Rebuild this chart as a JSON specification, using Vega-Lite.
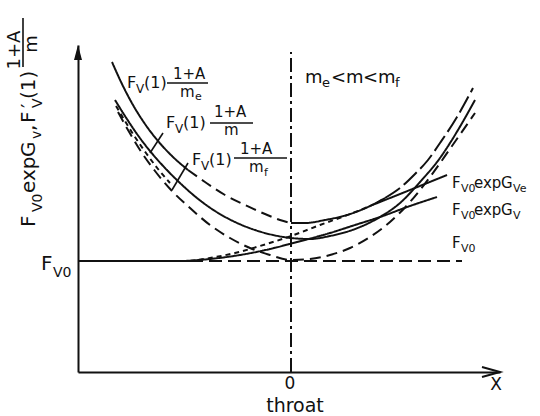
{
  "$schema": "https://vega.github.io/schema/vega-lite/v6.json",
  "width": 422,
  "height": 327,
  "autosize": {"type": "none"},
  "padding": {"left": 78, "top": 45, "right": 40, "bottom": 44},
  "background": "white",
  "config": {"view": {"stroke": null}, "text": {"font": "DejaVu Sans", "color": "#111"}},
  "datasets": {
    "curves": [
      {"s": "me_a", "st": "solid", "x": -1.79, "y": 3.10},
      {"s": "me_a", "st": "solid", "x": -1.69, "y": 2.88},
      {"s": "me_a", "st": "solid", "x": -1.58, "y": 2.67},
      {"s": "me_a", "st": "solid", "x": -1.46, "y": 2.48},
      {"s": "me_a", "st": "solid", "x": -1.33, "y": 2.31},
      {"s": "me_a", "st": "solid", "x": -1.19, "y": 2.16},
      {"s": "me_a", "st": "solid", "x": -1.03, "y": 2.02},
      {"s": "me_b", "st": "dash", "x": -1.03, "y": 2.02},
      {"s": "me_b", "st": "dash", "x": -0.86, "y": 1.90},
      {"s": "me_b", "st": "dash", "x": -0.66, "y": 1.77},
      {"s": "me_b", "st": "dash", "x": -0.46, "y": 1.67},
      {"s": "me_b", "st": "dash", "x": -0.26, "y": 1.58},
      {"s": "me_b", "st": "dash", "x": -0.11, "y": 1.52},
      {"s": "me_b", "st": "dash", "x": 0.0, "y": 1.49},
      {"s": "me_c", "st": "solid", "x": 0.0, "y": 1.49},
      {"s": "me_c", "st": "solid", "x": 0.14, "y": 1.49},
      {"s": "me_c", "st": "solid", "x": 0.34, "y": 1.52},
      {"s": "me_c", "st": "solid", "x": 0.56, "y": 1.57},
      {"s": "me_c", "st": "solid", "x": 0.79, "y": 1.66},
      {"s": "me_c", "st": "solid", "x": 0.94, "y": 1.74},
      {"s": "me_d", "st": "ldash", "x": 0.94, "y": 1.74},
      {"s": "me_d", "st": "ldash", "x": 1.09, "y": 1.84},
      {"s": "me_d", "st": "ldash", "x": 1.24, "y": 1.98},
      {"s": "me_d", "st": "ldash", "x": 1.37, "y": 2.12},
      {"s": "me_d", "st": "ldash", "x": 1.49, "y": 2.29},
      {"s": "me_d", "st": "ldash", "x": 1.66, "y": 2.55},
      {"s": "me_d", "st": "ldash", "x": 1.82, "y": 2.84},
      {"s": "m", "st": "solid", "x": -1.76, "y": 2.72},
      {"s": "m", "st": "solid", "x": -1.66, "y": 2.56},
      {"s": "m", "st": "solid", "x": -1.54, "y": 2.38},
      {"s": "m", "st": "solid", "x": -1.41, "y": 2.21},
      {"s": "m", "st": "solid", "x": -1.26, "y": 2.04},
      {"s": "m", "st": "solid", "x": -1.11, "y": 1.89},
      {"s": "m", "st": "solid", "x": -0.94, "y": 1.74},
      {"s": "m", "st": "solid", "x": -0.76, "y": 1.61},
      {"s": "m", "st": "solid", "x": -0.56, "y": 1.50},
      {"s": "m", "st": "solid", "x": -0.36, "y": 1.42},
      {"s": "m", "st": "solid", "x": -0.18, "y": 1.37},
      {"s": "m", "st": "solid", "x": 0.0, "y": 1.34},
      {"s": "m", "st": "solid", "x": 0.19, "y": 1.33},
      {"s": "m", "st": "solid", "x": 0.39, "y": 1.36},
      {"s": "m", "st": "solid", "x": 0.64, "y": 1.43},
      {"s": "m", "st": "solid", "x": 0.89, "y": 1.55},
      {"s": "m", "st": "solid", "x": 1.09, "y": 1.69},
      {"s": "m", "st": "solid", "x": 1.29, "y": 1.90},
      {"s": "m", "st": "solid", "x": 1.49, "y": 2.14},
      {"s": "m", "st": "solid", "x": 1.67, "y": 2.42},
      {"s": "m", "st": "solid", "x": 1.84, "y": 2.72},
      {"s": "mf", "st": "dash", "x": -1.73, "y": 2.60},
      {"s": "mf", "st": "dash", "x": -1.63, "y": 2.42},
      {"s": "mf", "st": "dash", "x": -1.51, "y": 2.22},
      {"s": "mf", "st": "dash", "x": -1.36, "y": 2.01},
      {"s": "mf", "st": "dash", "x": -1.19, "y": 1.81},
      {"s": "mf", "st": "dash", "x": -1.01, "y": 1.64},
      {"s": "mf", "st": "dash", "x": -0.81, "y": 1.47},
      {"s": "mf", "st": "dash", "x": -0.61, "y": 1.34},
      {"s": "mf", "st": "dash", "x": -0.41, "y": 1.24},
      {"s": "mf", "st": "dash", "x": -0.21, "y": 1.17},
      {"s": "mf", "st": "dash", "x": 0.0, "y": 1.12},
      {"s": "mf", "st": "dash", "x": 0.19, "y": 1.13},
      {"s": "mf", "st": "dash", "x": 0.39, "y": 1.17},
      {"s": "mf", "st": "dash", "x": 0.59, "y": 1.24},
      {"s": "mf", "st": "dash", "x": 0.79, "y": 1.35},
      {"s": "mf", "st": "dash", "x": 0.99, "y": 1.50},
      {"s": "mf", "st": "dash", "x": 1.19, "y": 1.70},
      {"s": "mf", "st": "dash", "x": 1.39, "y": 1.95},
      {"s": "mf", "st": "dash", "x": 1.61, "y": 2.26},
      {"s": "mf", "st": "dash", "x": 1.84, "y": 2.59},
      {"s": "l3", "st": "short", "x": -1.75, "y": 2.66},
      {"s": "l3", "st": "short", "x": -1.66, "y": 2.51},
      {"s": "l3", "st": "short", "x": -1.56, "y": 2.35},
      {"s": "l3", "st": "short", "x": -1.45, "y": 2.19},
      {"s": "l3", "st": "short", "x": -1.33, "y": 2.03},
      {"s": "l3", "st": "short", "x": -1.21, "y": 1.89},
      {"s": "gve_a", "st": "short", "x": -1.01, "y": 1.11},
      {"s": "gve_a", "st": "short", "x": -0.81, "y": 1.14},
      {"s": "gve_a", "st": "short", "x": -0.56, "y": 1.19},
      {"s": "gve_a", "st": "short", "x": -0.31, "y": 1.26},
      {"s": "gve_a", "st": "short", "x": 0.0, "y": 1.36},
      {"s": "gve_a", "st": "short", "x": 0.29, "y": 1.47},
      {"s": "gve_a", "st": "short", "x": 0.59, "y": 1.58},
      {"s": "gve_a", "st": "short", "x": 0.84, "y": 1.68},
      {"s": "gve_b", "st": "solid", "x": 0.84, "y": 1.68},
      {"s": "gve_b", "st": "solid", "x": 1.19, "y": 1.82},
      {"s": "gve_b", "st": "solid", "x": 1.56, "y": 1.97},
      {"s": "gv", "st": "solid", "x": -1.06, "y": 1.11},
      {"s": "gv", "st": "solid", "x": -0.81, "y": 1.13},
      {"s": "gv", "st": "solid", "x": -0.51, "y": 1.17},
      {"s": "gv", "st": "solid", "x": -0.21, "y": 1.23},
      {"s": "gv", "st": "solid", "x": 0.06, "y": 1.30},
      {"s": "gv", "st": "solid", "x": 0.39, "y": 1.39},
      {"s": "gv", "st": "solid", "x": 0.64, "y": 1.47},
      {"s": "gv", "st": "solid", "x": 0.89, "y": 1.55},
      {"s": "gv", "st": "solid", "x": 1.19, "y": 1.66},
      {"s": "gv", "st": "solid", "x": 1.46, "y": 1.75},
      {"s": "f0_a", "st": "solid", "x": -2.13, "y": 1.11},
      {"s": "f0_a", "st": "solid", "x": -1.01, "y": 1.11},
      {"s": "f0_b", "st": "fdash", "x": -1.01, "y": 1.11},
      {"s": "f0_b", "st": "fdash", "x": 1.71, "y": 1.11}
    ],
    "labels": [
      {"t": "F", "x": -2.56, "y": 1.45, "g": "ym"},
      {"t": "exp", "x": -2.56, "y": 1.79, "g": "ym"},
      {"t": "G", "x": -2.56, "y": 2.15, "g": "ym"},
      {"t": ",", "x": -2.56, "y": 2.41, "g": "ym"},
      {"t": "F", "x": -2.56, "y": 2.49, "g": "ym"},
      {"t": "′", "x": -2.56, "y": 2.64, "g": "ym"},
      {"t": "(1)", "x": -2.56, "y": 2.73, "g": "ym"},
      {"t": "V0", "x": -2.49, "y": 1.60, "g": "ys"},
      {"t": "v", "x": -2.50, "y": 2.33, "g": "ys"},
      {"t": "V", "x": -2.49, "y": 2.64, "g": "ys"},
      {"t": "1+A", "x": -2.71, "y": 3.22, "g": "yf"},
      {"t": "m", "x": -2.54, "y": 3.28, "g": "yf"},
      {"t": "F", "x": -1.64, "y": 2.84, "g": "a16"},
      {"t": "V", "x": -1.55, "y": 2.79, "g": "a12"},
      {"t": "(1)", "x": -1.47, "y": 2.84, "g": "a16"},
      {"t": "1+A", "x": -1.18, "y": 2.93, "g": "a15"},
      {"t": "m", "x": -1.11, "y": 2.75, "g": "a15"},
      {"t": "e", "x": -0.96, "y": 2.72, "g": "a11"},
      {"t": "F", "x": -1.25, "y": 2.44, "g": "a16"},
      {"t": "V", "x": -1.16, "y": 2.39, "g": "a12"},
      {"t": "(1)", "x": -1.08, "y": 2.44, "g": "a16"},
      {"t": "1+A", "x": -0.77, "y": 2.55, "g": "a15"},
      {"t": "m", "x": -0.67, "y": 2.37, "g": "a15"},
      {"t": "F", "x": -0.99, "y": 2.07, "g": "a16"},
      {"t": "V", "x": -0.90, "y": 2.02, "g": "a12"},
      {"t": "(1)", "x": -0.82, "y": 2.07, "g": "a16"},
      {"t": "1+A", "x": -0.51, "y": 2.185, "g": "a15"},
      {"t": "m", "x": -0.42, "y": 2.0, "g": "a15"},
      {"t": "f", "x": -0.27, "y": 1.96, "g": "a11"},
      {"t": "m", "x": 0.14, "y": 2.89, "g": "a18"},
      {"t": "e", "x": 0.31, "y": 2.85, "g": "a13"},
      {"t": "<", "x": 0.40, "y": 2.89, "g": "a18"},
      {"t": "m", "x": 0.55, "y": 2.89, "g": "a18"},
      {"t": "<", "x": 0.72, "y": 2.89, "g": "a18"},
      {"t": "m", "x": 0.87, "y": 2.89, "g": "a18"},
      {"t": "f", "x": 1.04, "y": 2.85, "g": "a13"},
      {"t": "F", "x": 1.61, "y": 1.84, "g": "a15"},
      {"t": "V0", "x": 1.70, "y": 1.80, "g": "a11"},
      {"t": "exp", "x": 1.83, "y": 1.84, "g": "a15"},
      {"t": "G", "x": 2.10, "y": 1.84, "g": "a15"},
      {"t": "Ve", "x": 2.22, "y": 1.80, "g": "a11"},
      {"t": "F", "x": 1.61, "y": 1.57, "g": "a15"},
      {"t": "V0", "x": 1.70, "y": 1.53, "g": "a11"},
      {"t": "exp", "x": 1.83, "y": 1.57, "g": "a15"},
      {"t": "G", "x": 2.10, "y": 1.57, "g": "a15"},
      {"t": "V", "x": 2.22, "y": 1.53, "g": "a11"},
      {"t": "F", "x": 1.61, "y": 1.24, "g": "a15"},
      {"t": "V0", "x": 1.70, "y": 1.20, "g": "a11"},
      {"t": "F", "x": -2.50, "y": 1.02, "g": "a20"},
      {"t": "V0", "x": -2.38, "y": 0.95, "g": "a14"},
      {"t": "0", "x": -0.01, "y": -0.17, "g": "c17"},
      {"t": "X", "x": 2.05, "y": -0.18, "g": "c17"},
      {"t": "throat", "x": 0.04, "y": -0.40, "g": "c19"}
    ],
    "segs": [
      {"k": "bar", "x": -1.24, "y": 2.89, "x2": -0.83, "y2": 2.89},
      {"k": "bar", "x": -0.81, "y": 2.49, "x2": -0.38, "y2": 2.49},
      {"k": "bar", "x": -0.57, "y": 2.14, "x2": -0.04, "y2": 2.14},
      {"k": "bar", "x": -2.68, "y": 3.05, "x2": -2.68, "y2": 3.54},
      {"k": "bar", "x": -1.28, "y": 2.39, "x2": -1.41, "y2": 2.19},
      {"k": "bar", "x": -1.03, "y": 2.09, "x2": -1.19, "y2": 1.82},
      {"k": "throat", "x": 0.0, "y": 0.0, "x2": 0.0, "y2": 3.20}
    ],
    "arrows": [
      {"k": "up", "x": -2.13, "y": 3.17},
      {"k": "right", "x": 2.0, "y": 0.0}
    ]
  },
  "encoding": {
    "x": {"field": "x", "type": "quantitative", "scale": {"domain": [-2.13, 2.09], "nice": false, "zero": false},
          "axis": {"title": null, "labels": false, "ticks": false, "grid": false, "domainColor": "#111", "domainWidth": 2}},
    "y": {"field": "y", "type": "quantitative", "scale": {"domain": [0, 3.27], "nice": false, "zero": false},
          "axis": {"title": null, "labels": false, "ticks": false, "grid": false, "domainColor": "#111", "domainWidth": 2}}
  },
  "layer": [
    {
      "data": {"name": "curves"},
      "mark": {"type": "line", "interpolate": "monotone", "strokeWidth": 2, "color": "#111"},
      "encoding": {
        "detail": {"field": "s"},
        "strokeDash": {"field": "st", "type": "nominal", "legend": null,
          "scale": {"domain": ["solid", "dash", "short", "ldash", "fdash"], "range": [[1, 0], [11, 6], [5, 4], [18, 5], [13, 6]]}}
      }
    },
    {
      "data": {"name": "segs"},
      "transform": [{"filter": "datum.k == 'bar'"}],
      "mark": {"type": "rule", "strokeWidth": 1.6, "color": "#111"},
      "encoding": {"x2": {"field": "x2"}, "y2": {"field": "y2"}}
    },
    {
      "data": {"name": "segs"},
      "transform": [{"filter": "datum.k == 'throat'"}],
      "mark": {"type": "rule", "strokeWidth": 2, "color": "#111", "strokeDash": [14, 4, 3, 4]},
      "encoding": {"x2": {"field": "x2"}, "y2": {"field": "y2"}}
    },
    {
      "data": {"name": "arrows"},
      "transform": [{"filter": "datum.k == 'up'"}],
      "mark": {"type": "point", "shape": "M0,-1L0.4,0.5L-0.4,0.5Z", "filled": true, "size": 400, "color": "#111", "opacity": 1}
    },
    {
      "data": {"name": "arrows"},
      "transform": [{"filter": "datum.k == 'right'"}],
      "mark": {"type": "point", "shape": "M-1,-0.55L1,0L-1,0.55", "filled": false, "size": 324, "strokeWidth": 2, "color": "#111", "opacity": 1}
    },
    {
      "data": {"name": "labels"},
      "transform": [{"filter": "datum.g == 'ym'"}],
      "mark": {"type": "text", "angle": 270, "align": "left", "baseline": "alphabetic", "fontSize": 20},
      "encoding": {"text": {"field": "t"}}
    },
    {
      "data": {"name": "labels"},
      "transform": [{"filter": "datum.g == 'ys'"}],
      "mark": {"type": "text", "angle": 270, "align": "left", "baseline": "alphabetic", "fontSize": 14},
      "encoding": {"text": {"field": "t"}}
    },
    {
      "data": {"name": "labels"},
      "transform": [{"filter": "datum.g == 'yf'"}],
      "mark": {"type": "text", "angle": 270, "align": "center", "baseline": "alphabetic", "fontSize": 18},
      "encoding": {"text": {"field": "t"}}
    },
    {
      "data": {"name": "labels"},
      "transform": [{"filter": "datum.g == 'a20'"}],
      "mark": {"type": "text", "align": "left", "baseline": "alphabetic", "fontSize": 20},
      "encoding": {"text": {"field": "t"}}
    },
    {
      "data": {"name": "labels"},
      "transform": [{"filter": "datum.g == 'a18'"}],
      "mark": {"type": "text", "align": "left", "baseline": "alphabetic", "fontSize": 18},
      "encoding": {"text": {"field": "t"}}
    },
    {
      "data": {"name": "labels"},
      "transform": [{"filter": "datum.g == 'a16'"}],
      "mark": {"type": "text", "align": "left", "baseline": "alphabetic", "fontSize": 16},
      "encoding": {"text": {"field": "t"}}
    },
    {
      "data": {"name": "labels"},
      "transform": [{"filter": "datum.g == 'a15'"}],
      "mark": {"type": "text", "align": "left", "baseline": "alphabetic", "fontSize": 15},
      "encoding": {"text": {"field": "t"}}
    },
    {
      "data": {"name": "labels"},
      "transform": [{"filter": "datum.g == 'a14'"}],
      "mark": {"type": "text", "align": "left", "baseline": "alphabetic", "fontSize": 14},
      "encoding": {"text": {"field": "t"}}
    },
    {
      "data": {"name": "labels"},
      "transform": [{"filter": "datum.g == 'a13'"}],
      "mark": {"type": "text", "align": "left", "baseline": "alphabetic", "fontSize": 13},
      "encoding": {"text": {"field": "t"}}
    },
    {
      "data": {"name": "labels"},
      "transform": [{"filter": "datum.g == 'a12'"}],
      "mark": {"type": "text", "align": "left", "baseline": "alphabetic", "fontSize": 12},
      "encoding": {"text": {"field": "t"}}
    },
    {
      "data": {"name": "labels"},
      "transform": [{"filter": "datum.g == 'a11'"}],
      "mark": {"type": "text", "align": "left", "baseline": "alphabetic", "fontSize": 11},
      "encoding": {"text": {"field": "t"}}
    },
    {
      "data": {"name": "labels"},
      "transform": [{"filter": "datum.g == 'c17'"}],
      "mark": {"type": "text", "align": "center", "baseline": "alphabetic", "fontSize": 17},
      "encoding": {"text": {"field": "t"}}
    },
    {
      "data": {"name": "labels"},
      "transform": [{"filter": "datum.g == 'c19'"}],
      "mark": {"type": "text", "align": "center", "baseline": "alphabetic", "fontSize": 19},
      "encoding": {"text": {"field": "t"}}
    }
  ]
}
